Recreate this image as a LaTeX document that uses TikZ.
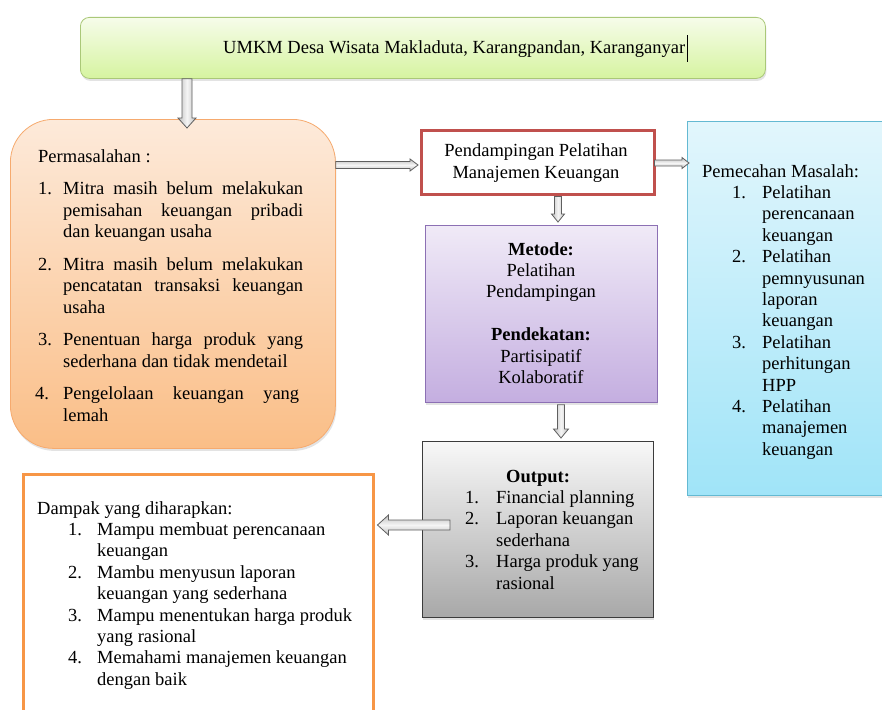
\documentclass[tikz,border=0pt]{standalone}
\usepackage{fontspec}
\setmainfont{Liberation Serif}
\usetikzlibrary{shadows,calc}

\definecolor{grnT}{RGB}{246,252,234}
\definecolor{grnB}{RGB}{214,244,160}
\definecolor{grnD}{RGB}{170,200,120}
\definecolor{orT}{RGB}{253,234,218}
\definecolor{orB}{RGB}{250,190,135}
\definecolor{orD}{RGB}{246,170,110}
\definecolor{puT}{RGB}{240,234,247}
\definecolor{puB}{RGB}{196,174,224}
\definecolor{puD}{RGB}{140,112,180}
\definecolor{gyT}{RGB}{248,248,248}
\definecolor{gyB}{RGB}{168,168,168}
\definecolor{gyD}{RGB}{60,60,60}
\definecolor{blT}{RGB}{226,246,252}
\definecolor{blB}{RGB}{160,228,248}
\definecolor{blD}{RGB}{100,185,210}
\definecolor{redD}{RGB}{192,80,77}
\definecolor{orL}{RGB}{247,150,70}
\definecolor{arD}{RGB}{95,95,95}

\newcommand\fs{\fontsize{18.5}{21.4}\selectfont}
\newcommand\J[1]{\makebox[240pt][s]{#1}}
% hanging list item: #1 lead space, #2 label width, #3 label
\newcommand\hitem[3]{\par\hangindent=\dimexpr#1+#2\relax\hangafter=1\noindent\hspace*{#1}\makebox[#2][l]{#3}}

\newcommand\arrD[5]{%
  \path[barrowV] let \p1=(#1), \p2=(#2) in
  (\x1-#3pt,\y1) -- (\x1-#3pt,\y2+#5pt) -- (\x1-#4pt,\y2+#5pt) -- (\x1,\y2)
  -- (\x1+#4pt,\y2+#5pt) -- (\x1+#3pt,\y2+#5pt) -- (\x1+#3pt,\y1) -- cycle;}
\newcommand\arrR[5]{%
  \path[barrowH] let \p1=(#1), \p2=(#2) in
  (\x1,\y1+#3pt) -- (\x2-#5pt,\y1+#3pt) -- (\x2-#5pt,\y1+#4pt) -- (\x2,\y1)
  -- (\x2-#5pt,\y1-#4pt) -- (\x2-#5pt,\y1-#3pt) -- (\x1,\y1-#3pt) -- cycle;}
\newcommand\arrL[5]{%
  \path[barrowH] let \p1=(#1), \p2=(#2) in
  (\x1,\y1+#3pt) -- (\x2+#5pt,\y1+#3pt) -- (\x2+#5pt,\y1+#4pt) -- (\x2,\y1)
  -- (\x2+#5pt,\y1-#4pt) -- (\x2+#5pt,\y1-#3pt) -- (\x1,\y1-#3pt) -- cycle;}

\tikzset{
  box/.style={draw, inner sep=0pt, anchor=north west},
  shd/.style={drop shadow={opacity=0.22, shadow xshift=1pt, shadow yshift=-2.5pt}},
  txt/.style={inner sep=0pt, anchor=base west, font=\fs},
  barrowV/.style={draw=arD, line width=0.8pt, left color=gray!50, right color=gray!50, middle color=gray!8},
  barrowH/.style={draw=arD, line width=0.8pt, top color=gray!50, bottom color=gray!50, middle color=gray!8}
}

\begin{document}
\begin{tikzpicture}[x=1pt,y=-1pt]
\useasboundingbox (0,0) rectangle (882,709);
\fill[white] (0,0) rectangle (882,709);

% boxes
\node[box, shd, rounded corners=9pt, draw=grnD, line width=0.8pt, top color=grnT, bottom color=grnB,
      minimum width=685pt, minimum height=61pt] (top) at (80,17) {};
\node[box, shd, rounded corners=43pt, draw=orD, line width=0.8pt, top color=orT, bottom color=orB,
      minimum width=325pt, minimum height=329pt] (prob) at (10,119) {};
\node[box, draw=redD, line width=2.5pt, fill=white,
      minimum width=233pt, minimum height=64pt] (pend) at (420,129) {};
\node[box, shd, draw=blD, line width=0.8pt, top color=blT, bottom color=blB,
      minimum width=205pt, minimum height=374pt] (sol) at (687,121) {};
\node[box, shd, draw=puD, line width=0.8pt, top color=puT, bottom color=puB,
      minimum width=232pt, minimum height=177pt] (met) at (425,225) {};
\node[box, shd, draw=gyD, line width=0.8pt, top color=gyT, bottom color=gyB,
      minimum width=231pt, minimum height=176pt] (out) at (422,441) {};
\node[box, draw=orL, line width=2.5pt, fill=white,
      minimum width=350pt, minimum height=250pt] (imp) at (22,473) {};

% texts
\node[txt] (toptext) at (223,53) {UMKM Desa Wisata Makladuta, Karangpandan, Karanganyar\hspace{1.5pt}\rule[-9pt]{0.8pt}{27pt}};

\node[txt] (probtext) at (38,162) {\parbox[t]{265pt}{\fs
  Permasalahan :\par\vspace{11.3pt}
  \hitem{0pt}{25pt}{1.}\J{Mitra masih belum melakukan}\\\J{pemisahan keuangan pribadi}\\dan keuangan usaha\par\vspace{11.3pt}
  \hitem{0pt}{25pt}{2.}\J{Mitra masih belum melakukan}\\\J{pencatatan transaksi keuangan}\\usaha\par\vspace{11.3pt}
  \hitem{0pt}{25pt}{3.}\J{Penentuan harga produk yang}\\sederhana dan tidak mendetail\par\vspace{11.3pt}
  \hitem{-3pt}{28pt}{4.}\makebox[236pt][s]{Pengelolaan keuangan yang}\\lemah}};

\node[inner sep=0pt, align=center, font=\fs] (pendtext) at (536,163)
  {Pendampingan Pelatihan\\Manajemen Keuangan};

\node[txt] (soltext) at (702,177) {\parbox[t]{180pt}{\fs
  Pemecahan Masalah:
  \hitem{30pt}{30pt}{1.}Pelatihan\\perencanaan\\keuangan
  \hitem{30pt}{30pt}{2.}Pelatihan\\pemnyusunan\\laporan\\keuangan
  \hitem{30pt}{30pt}{3.}Pelatihan\\perhitungan\\HPP
  \hitem{30pt}{30pt}{4.}Pelatihan\\manajemen\\keuangan}};

\node[inner sep=0pt, anchor=base, font=\fs] (mettext) at (541,255) {\parbox[t]{220pt}{\centering\fs
  \textbf{Metode:}\\Pelatihan\\Pendampingan\\\mbox{}\\\textbf{Pendekatan:}\\Partisipatif\\Kolaboratif}};

\node[txt] (outtext) at (465,482) {\parbox[t]{185pt}{\fs
  \hspace*{41pt}\textbf{Output:}
  \hitem{0pt}{31pt}{1.}Financial planning
  \hitem{0pt}{31pt}{2.}Laporan keuangan\\sederhana
  \hitem{0pt}{31pt}{3.}Harga produk yang\\rasional}};

\node[txt] (imptext) at (37,514) {\parbox[t]{330pt}{\fs
  Dampak yang diharapkan:
  \hitem{31pt}{29pt}{1.}Mampu membuat perencanaan\\keuangan
  \hitem{31pt}{29pt}{2.}Mambu menyusun laporan\\keuangan yang sederhana
  \hitem{31pt}{29pt}{3.}Mampu menentukan harga produk\\yang rasional
  \hitem{31pt}{29pt}{4.}Memahami manajemen keuangan\\dengan baik}};

% arrow end points
\coordinate (a1s) at ($(top.south west)+(107,0)$);
\coordinate (a1e) at ($(prob.north west)+(177,9)$);
\coordinate (a2s) at ($(prob.north east)+(0,46)$);
\coordinate (a2e) at ($(pend.north west)+(-2,36)$);
\coordinate (a3s) at ($(pend.north east)+(-1,34)$);
\coordinate (a3e) at ($(sol.north west)+(2,42)$);
\coordinate (a4s) at ($(pend.south west)+(138,1)$);
\coordinate (a4e) at ($(met.north west)+(133,-3)$);
\coordinate (a5s) at ($(met.south west)+(136,2)$);
\coordinate (a5e) at ($(out.north west)+(140,-3)$);
\coordinate (a6s) at ($(out.north west)+(28,84)$);
\coordinate (a6e) at ($(imp.north east)+(3,52)$);

\arrD{a1s}{a1e}{5}{9}{10}
\arrR{a2s}{a2e}{3.5}{6}{8}
\arrR{a3s}{a3e}{3}{5.5}{7}
\arrD{a4s}{a4e}{3.5}{6.5}{8}
\arrD{a5s}{a5e}{3.5}{7.5}{9}
\arrL{a6s}{a6e}{5}{10}{11}
\end{tikzpicture}
\end{document}
